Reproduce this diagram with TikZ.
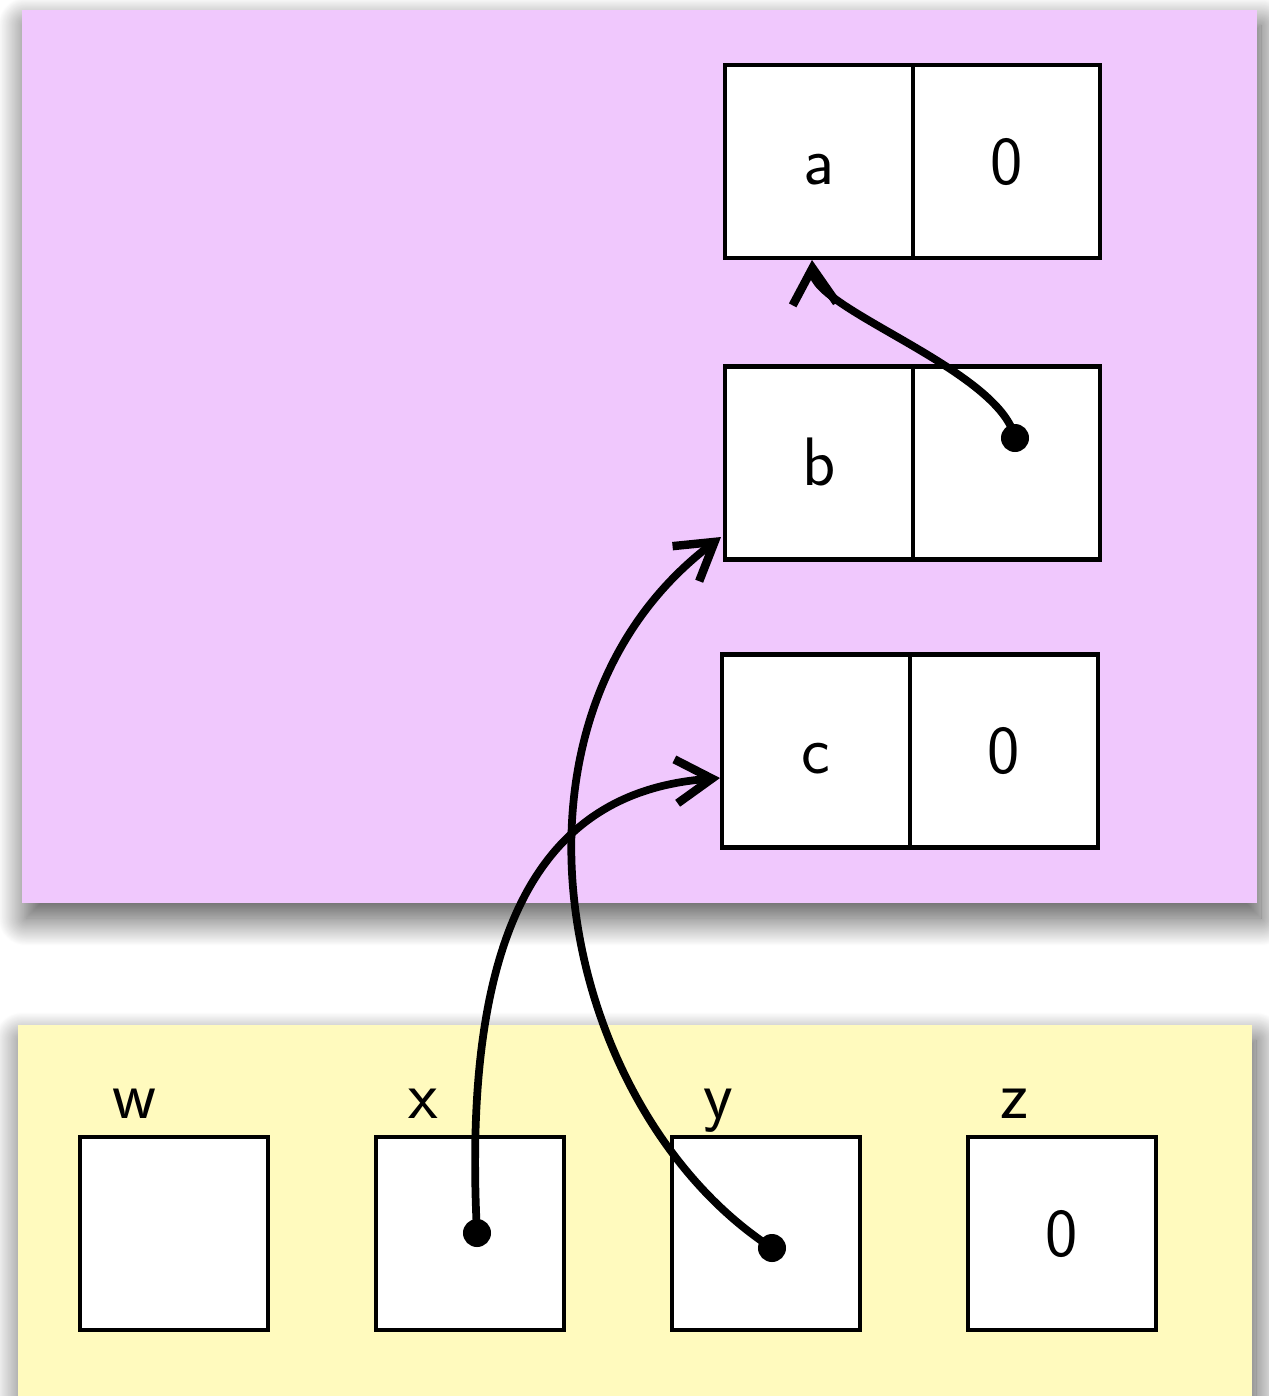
\documentclass[tikz,border=0pt]{standalone}
\usetikzlibrary{arrows.meta,shadows.blur}
\definecolor{heapbg}{RGB}{240,200,253}
\definecolor{stackbg}{RGB}{255,250,190}
\begin{document}
\begin{tikzpicture}[x=0.01cm,y=-0.01cm,
  region/.style={draw=none,blur shadow={shadow xshift=0.04cm,shadow yshift=-0.15cm,
    shadow blur radius=0.28cm,shadow blur steps=40,shadow opacity=70}},
  cell/.style={draw,fill=white,line width=1.25pt,minimum height=1.93cm,inner sep=0pt,
    text height=0.45cm,text depth=0cm,
    font=\sffamily\fontsize{19.5}{22}\selectfont},
  varlabel/.style={anchor=base,inner sep=0pt,font=\sffamily\fontsize{19.5}{22}\selectfont},
  ptr/.style={line width=2.2pt,-{Straight Barb[length=0.36cm,width=0.44cm,line width=2.4pt]}},
  dot/.style={fill=black}
]
\useasboundingbox (0,0) rectangle (1269,1396);

% memory regions
\path[region,fill=heapbg] (22,10) rectangle (1257,903);
\path[region,fill=stackbg] (18,1025) rectangle (1252,1420);
\fill[white] (0,1396) rectangle (1269,1430);
\fill[stackbg] (18,1025) rectangle (1252,1396);

% heap records
\node[cell,minimum width=1.88cm] (aname) at (819,161.5) {a};
\node[cell,minimum width=1.87cm] (aval)  at (1006.5,161.5) {0};
\node[cell,minimum width=1.88cm] (bname) at (819,463) {b};
\node[cell,minimum width=1.87cm] (bval)  at (1006.5,463) {};
\node[cell,minimum width=1.88cm] (cname) at (816,751) {c};
\node[cell,minimum width=1.88cm] (cval)  at (1004,751) {0};

% variables
\node[cell,minimum width=1.88cm] (w) at (174,1233.5) {};
\node[cell,minimum width=1.88cm] (x) at (470,1233.5) {};
\node[cell,minimum width=1.88cm] (y) at (766,1233.5) {};
\node[cell,minimum width=1.88cm] (z) at (1062,1233.5) {0};
\node[varlabel] (wl) at (134,1118) {w};
\node[varlabel] (xl) at (423,1118) {x};
\node[varlabel] (yl) at (718,1118) {y};
\node[varlabel] (zl) at (1014,1118) {z};

% pointer origins and targets
\coordinate (bptr) at (1015,438);
\coordinate (xptr) at (477,1233);
\coordinate (yptr) at (772,1248);
\coordinate (atip) at (812,260);
\coordinate (btip) at (721,537);
\coordinate (ctip) at (720,778);

% pointers
\draw[ptr] (bptr) .. controls (1000,370) and (815,310) .. (atip);
\draw[ptr] (xptr) .. controls (460,900) and (560,790) .. (ctip);
\draw[ptr] (yptr) .. controls (560,1110) and (480,720) .. (btip);
\fill[dot] (bptr) circle (0.14cm);
\fill[dot] (xptr) circle (0.14cm);
\fill[dot] (yptr) circle (0.14cm);
\end{tikzpicture}
\end{document}
